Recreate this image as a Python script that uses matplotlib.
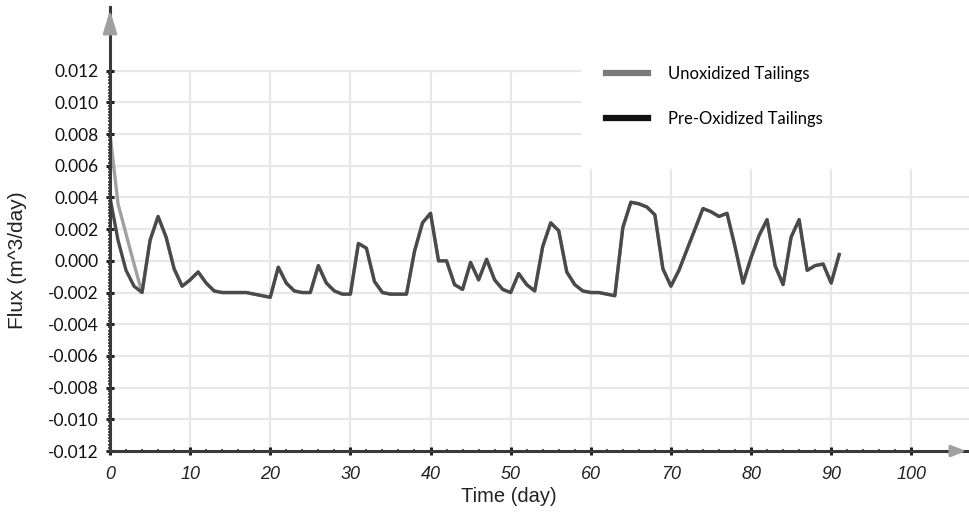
import numpy as np
import matplotlib
matplotlib.use("Agg")
import matplotlib.pyplot as plt
from matplotlib.patches import Rectangle
from matplotlib.ticker import FixedLocator, FormatStrFormatter

# first days differ between the two tailings, afterwards the curves coincide
head_days = [0, 1, 2, 3]
unox_head = [0.0080, 0.0036, 0.0017, -0.0002]
preox_head = [0.0040, 0.0013, -0.0006, -0.0016]

tail_days = list(range(4, 92))
tail_flux = [
    -0.0020, 0.0013, 0.0028, 0.0015, -0.0005, -0.0016, -0.0012, -0.0007, -0.0014, -0.0019,  # 4-13
    -0.0020, -0.0020, -0.0020, -0.0020, -0.0021, -0.0022, -0.0023, -0.0004, -0.0014, -0.0019,  # 14-23
    -0.0020, -0.0020, -0.0003, -0.0014, -0.0019, -0.0021, -0.0021, 0.0011, 0.0008, -0.0013,  # 24-33
    -0.0020, -0.0021, -0.0021, -0.0021, 0.0006, 0.0024, 0.0030, 0.0000, 0.0000, -0.0015,  # 34-43
    -0.0018, -0.0001, -0.0012, 0.0001, -0.0012, -0.0018, -0.0020, -0.0008, -0.0015, -0.0019,  # 44-53
    0.0009, 0.0024, 0.0019, -0.0007, -0.0015, -0.0019, -0.0020, -0.0020, -0.0021, -0.0022,  # 54-63
    0.0021, 0.0037, 0.0036, 0.0034, 0.0029, -0.0005, -0.0016, -0.0006, 0.0007, 0.0020,  # 64-73
    0.0033, 0.0031, 0.0028, 0.0030, 0.0009, -0.0014, 0.0002, 0.0016, 0.0026, -0.0003,  # 74-83
    -0.0015, 0.0015, 0.0026, -0.0006, -0.0003, -0.0002, -0.0014, 0.0004,  # 84-91
]

days = head_days + tail_days
unoxidized = unox_head + tail_flux
pre_oxidized = preox_head + tail_flux

x_ticks = list(range(0, 101, 10))
y_ticks = [-0.012, -0.010, -0.008, -0.006, -0.004, -0.002, 0.0, 0.002, 0.004, 0.006, 0.008, 0.010, 0.012]

W, H = 969, 516
fig = plt.figure(figsize=(W / 100, H / 100), dpi=100)
ax = fig.add_axes([110 / W, (H - 451) / H, (W - 110) / W, (451 - 7) / H])
xmax, ymax = 107.2, 0.01602
ax.set_xlim(0, xmax)
ax.set_ylim(-0.012, ymax)

# grid only inside the data range
ax.vlines(x_ticks[1:], -0.012, 0.012, color="#e8e8e8", lw=1.6, zorder=1)
ax.hlines(y_ticks[1:], 0, xmax, color="#e8e8e8", lw=1.6, zorder=1)
ax.add_patch(Rectangle((58.8, 0.0058), xmax - 58.8, ymax - 0.0058,
                       facecolor="white", edgecolor="none", zorder=1.5))

ax.plot(days, unoxidized, color="#a0a0a0", lw=2.4, zorder=3, label="Unoxidized Tailings")
ax.plot(days, pre_oxidized, color="#4a4a4a", lw=2.4, zorder=4, label="Pre-Oxidized Tailings")

for side in ("top", "right"):
    ax.spines[side].set_visible(False)
for side in ("left", "bottom"):
    ax.spines[side].set_color("#3a3a3a")
    ax.spines[side].set_linewidth(2.2)
    ax.spines[side].set_zorder(5)

ax.annotate("", xy=(0, ymax), xytext=(0, ymax - 0.0012),
            arrowprops=dict(arrowstyle="-|>,head_length=1.4,head_width=0.42",
                            color="#a0a0a0", lw=2), annotation_clip=False, zorder=6)
ax.annotate("", xy=(xmax, -0.012), xytext=(xmax - 2, -0.012),
            arrowprops=dict(arrowstyle="-|>,head_length=0.9,head_width=0.35",
                            color="#a0a0a0", lw=2), annotation_clip=False, zorder=6)

ax.xaxis.set_major_locator(FixedLocator(x_ticks))
ax.xaxis.set_minor_locator(FixedLocator(list(range(0, 101, 2))))
ax.yaxis.set_major_locator(FixedLocator(y_ticks))
ax.yaxis.set_minor_locator(FixedLocator(np.linspace(-0.012, 0.012, 121)))
ax.yaxis.set_major_formatter(FormatStrFormatter("%.3f"))

ax.tick_params(axis="both", which="major", direction="inout", length=6, width=2.2, color="#222222")
ax.tick_params(axis="both", which="minor", direction="inout", length=3.5, width=1.2, color="#333333")
ax.tick_params(axis="x", which="major", pad=8)
ax.tick_params(axis="y", which="major", pad=5)

for lbl in ax.get_xticklabels():
    lbl.set_fontfamily("Liberation Sans")
    lbl.set_fontstyle("italic")
    lbl.set_fontsize(13)
    lbl.set_color("#222222")
for lbl in ax.get_yticklabels():
    lbl.set_fontfamily("Lato")
    lbl.set_fontsize(12.5)
    lbl.set_color("#111111")

fig.text(509 / W, 1 - 497 / H, "Time (day)", ha="center", va="center",
         fontsize=14.5, family="Liberation Sans", color="#222222")
fig.text(18 / W, 1 - 260 / H, "Flux (m^3/day)", ha="center", va="center",
         rotation=90, fontsize=15, family="Liberation Sans", color="#222222")

handles = [plt.Line2D([], [], color="#7a7a7a", lw=4.5),
           plt.Line2D([], [], color="#111111", lw=4.5)]
leg = fig.legend(handles, ["Unoxidized Tailings", "Pre-Oxidized Tailings"],
                 loc="upper left", bbox_to_anchor=(591 / W, 1 - 51 / H),
                 frameon=False, prop={"family": "Lato", "size": 12},
                 handlelength=2.5, handletextpad=1.25, labelspacing=1.75)

fig.savefig("out.png", dpi=100)
